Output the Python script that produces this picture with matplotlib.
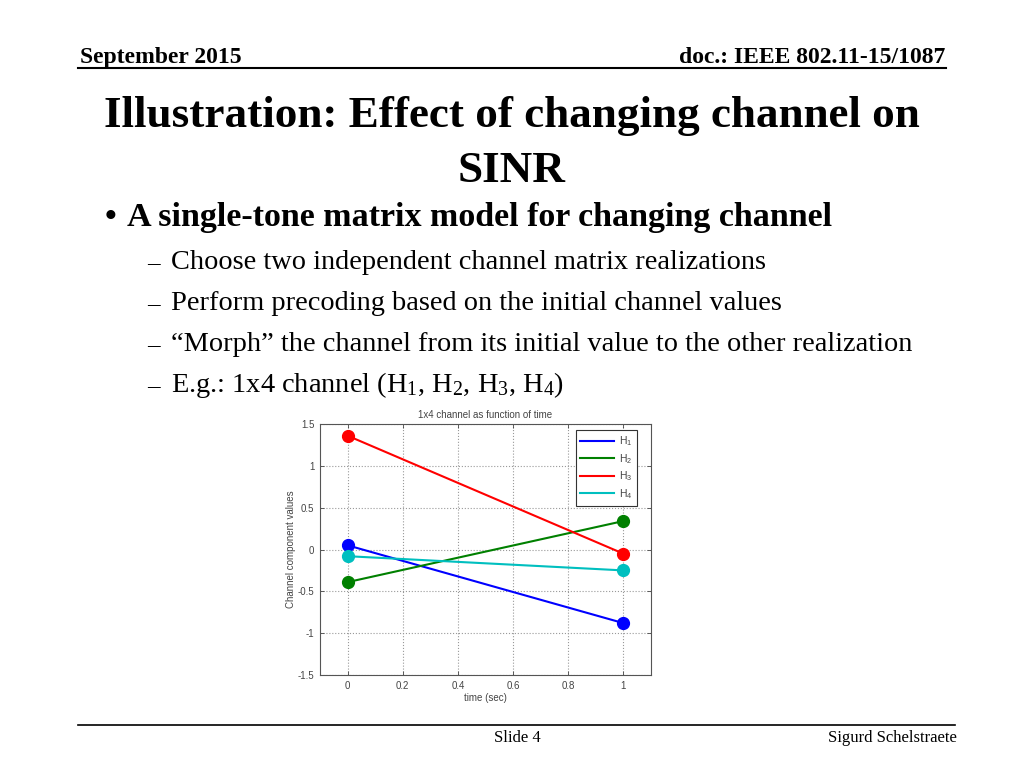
import matplotlib
matplotlib.use("Agg")
import matplotlib.pyplot as plt

# data
time = [0, 1]
h1 = [0.05, -0.88]
h2 = [-0.39, 0.34]
h3 = [1.36, -0.05]
h4 = [-0.08, -0.25]
series = [("H1", h1, "#0000ff"), ("H2", h2, "#008000"),
          ("H3", h3, "#ff0000"), ("H4", h4, "#00bfbf")]
xticks = [0, 0.2, 0.4, 0.6, 0.8, 1]
yticks = [-1.5, -1, -0.5, 0, 0.5, 1, 1.5]

W, H = 1024, 768
fig = plt.figure(figsize=(W / 100, H / 100), dpi=100)
serif = "Liberation Serif"
sans = "Liberation Sans"


def px(x, y):
    return x / W, 1 - y / H


def txt(x, y, s, size, weight="normal", ha="left", va="baseline"):
    fig.text(*px(x, y), s, fontsize=size, fontweight=weight, family=serif,
             ha=ha, va=va, color="black")


# header
txt(80, 63, "September 2015", 17, "bold")
txt(945, 63, "doc.: IEEE 802.11-15/1087", 17, "bold", ha="right")
fig.add_artist(plt.Line2D([78 / W, 946 / W], [1 - 68 / H, 1 - 68 / H],
                          color="black", lw=1.5))

# slide title
txt(512, 127, "Illustration: Effect of changing channel on", 32.5, "bold", ha="center")
txt(512, 182, "SINR", 32.5, "bold", ha="center")

# bullets
txt(105, 226, "\u2022", 24, "bold")
txt(127, 226, "A single-tone matrix model for changing channel", 24.5, "bold")
subs = ["Choose two independent channel matrix realizations",
        "Perform precoding based on the initial channel values",
        "\u201cMorph\u201d the channel from its initial value to the other realization",
        r"E.g.: 1x4 channel (H$\mathregular{_1}$, H$\mathregular{_2}$, "
        r"H$\mathregular{_3}$, H$\mathregular{_4}$)"]
for i, s in enumerate(subs):
    y = 269 + i * 41
    txt(147, y, "\u2013", 18)
    txt(171, y, s, 20.4)

# footer
fig.add_artist(plt.Line2D([78 / W, 955 / W], [1 - 725 / H, 1 - 725 / H],
                          color="black", lw=1.2))
txt(517, 742, "Slide 4", 12, ha="center")
txt(957, 742, "Sigurd Schelstraete", 12, ha="right")

# the matlab figure
ax = fig.add_axes([320 / W, 1 - 675 / H, 331 / W, 251 / H])
for name, vals, c in series:
    lab = name[0] + r"$\mathregular{_" + name[1] + "}$"
    ax.plot(time, vals, color=c, lw=1.5, marker="o", markersize=8.5, label=lab)

ax.set_xlim(-0.1, 1.1)
ax.set_ylim(-1.5, 1.5)
ax.set_xticks(xticks)
ax.set_xticklabels(["0", "0.2", "0.4", "0.6", "0.8", "1"])
ax.set_yticks(yticks)
ax.set_yticklabels(["-1.5", "-1", "-0.5", "0", "0.5", "1", "1.5"])
ax.grid(True, linestyle=":", color="#999999", lw=0.8)
ax.tick_params(direction="in", top=True, right=True, labelsize=7,
               colors="#444444", length=3, width=0.6, pad=4)
for sp in ax.spines.values():
    sp.set_color("#555555")
    sp.set_linewidth(0.8)
for t in ax.get_xticklabels() + ax.get_yticklabels():
    t.set_family(sans)
ax.set_title("1x4 channel as function of time", fontsize=7, family=sans,
             color="#444444", pad=4)
ax.set_xlabel("time (sec)", fontsize=7, family=sans, color="#444444", labelpad=2)
ax.set_ylabel("Channel component values", fontsize=7, family=sans,
              color="#444444", labelpad=1)
leg = ax.legend(loc="upper right", bbox_to_anchor=((637 - 320) / 331, (675 - 430) / 251),
                borderaxespad=0, prop={"family": sans, "size": 7.5},
                fancybox=False, edgecolor="#333333", framealpha=1,
                handlelength=3.2, handletextpad=0.5, labelspacing=0.35,
                borderpad=0.45, markerscale=0)
leg.get_frame().set_linewidth(0.8)
for t in leg.get_texts():
    t.set_color("#444444")
for l in leg.get_lines():
    l.set_marker("")

fig.savefig("out.png", dpi=100)
